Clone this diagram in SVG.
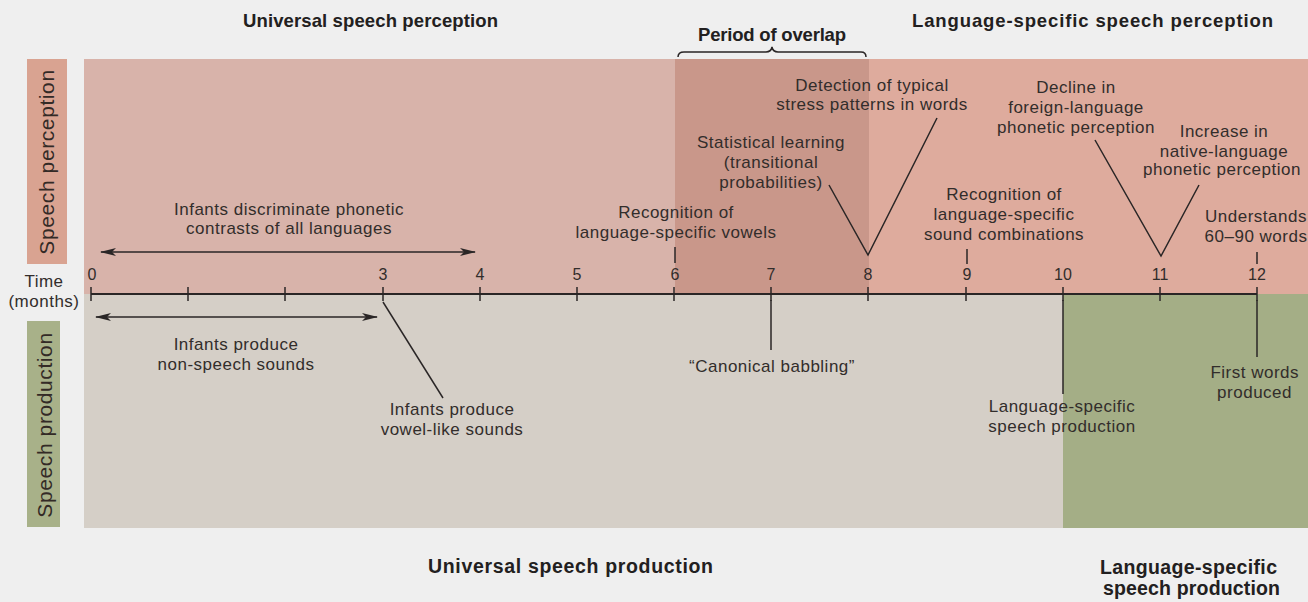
<svg xmlns="http://www.w3.org/2000/svg" width="1308" height="602" viewBox="0 0 1308 602">
<defs>
<style>
.t{font-family:"Liberation Sans",Arial,sans-serif;font-size:17px;letter-spacing:0.5px;fill:#322d2b;text-anchor:middle}
.n{font-family:"Liberation Sans",Arial,sans-serif;font-size:16px;fill:#322d2b;text-anchor:middle}
.h{font-family:"Liberation Sans",Arial,sans-serif;font-size:18.5px;font-weight:bold;fill:#222020}
.b{font-family:"Liberation Sans",Arial,sans-serif;font-size:19.5px;font-weight:bold;fill:#222020}
.side{font-family:"Liberation Sans",Arial,sans-serif;font-size:21px;letter-spacing:0.6px;fill:#332a26;text-anchor:middle}
.ln{stroke:#2a2626;stroke-width:1.5;fill:none}
.ax{stroke:#2a2626;stroke-width:1.8;fill:none}
</style>
<marker id="ah" viewBox="0 0 16 8" refX="15" refY="4" markerWidth="16" markerHeight="8" markerUnits="userSpaceOnUse" orient="auto-start-reverse">
<path d="M0,0 L16,4 L0,8 L4,4 Z" fill="#2a2626"/>
</marker>
</defs>
<rect width="1308" height="602" fill="#efefef"/>
<g id="panels">
<rect x="84" y="59" width="591" height="235" fill="#d8b3aa"/>
<rect x="675" y="59" width="194" height="235" fill="#c9978a"/>
<rect x="869" y="59" width="439" height="235" fill="#deab9d"/>
<rect x="84" y="294" width="979" height="234" fill="#d5cfc7"/>
<rect x="1063" y="294" width="245" height="234" fill="#a4ae86"/>
</g>
<g id="side-labels">
<rect x="27" y="59" width="40" height="205" fill="#d9a391"/>
<text class="side" transform="translate(54,162) rotate(-90)">Speech perception</text>
<rect x="27" y="321" width="33" height="206" fill="#a8b189"/>
<text class="side" transform="translate(52,425) rotate(-90)">Speech production</text>
<text class="t" x="44" y="287">Time</text>
<text class="t" x="44" y="307">(months)</text>
</g>
<g id="titles">
<text class="h" x="243" y="27" textLength="255">Universal speech perception</text>
<text class="h" x="912" y="27" textLength="361">Language-specific speech perception</text>
<text class="h" x="698" y="41" textLength="148">Period of overlap</text>
<text class="b" x="428" y="573" textLength="285">Universal speech production</text>
<text class="b" x="1100" y="574" textLength="177">Language-specific</text>
<text class="b" x="1103" y="595" textLength="177">speech production</text>
</g>
<g id="axis">
<line class="ax" x1="91" y1="294" x2="1257" y2="294"/>
<g class="ln">
<line x1="91" y1="287" x2="91" y2="301"/>
<line x1="188" y1="287" x2="188" y2="301"/>
<line x1="285" y1="287" x2="285" y2="301"/>
<line x1="383" y1="287" x2="383" y2="301"/>
<line x1="480" y1="287" x2="480" y2="301"/>
<line x1="577" y1="287" x2="577" y2="301"/>
<line x1="674" y1="287" x2="674" y2="301"/>
<line x1="771" y1="287" x2="771" y2="301"/>
<line x1="868" y1="287" x2="868" y2="301"/>
<line x1="966" y1="287" x2="966" y2="301"/>
<line x1="1063" y1="287" x2="1063" y2="301"/>
<line x1="1160" y1="287" x2="1160" y2="301"/>
<line x1="1257" y1="287" x2="1257" y2="301"/>
</g>
<g class="n">
<text x="92" y="280">0</text>
<text x="383" y="280">3</text>
<text x="480" y="280">4</text>
<text x="577" y="280">5</text>
<text x="675" y="280">6</text>
<text x="771" y="280">7</text>
<text x="868" y="280">8</text>
<text x="967" y="280">9</text>
<text x="1063" y="280">10</text>
<text x="1160" y="280">11</text>
<text x="1257" y="280">12</text>
</g>
</g>
<g id="connectors">
<path class="ln" d="M678,57 Q678,52 684,52 L766,52 Q771,52 772,47 Q773,52 778,52 L861,52 Q866,52 866,57"/>
<line class="ln" x1="101" y1="252" x2="475" y2="252" marker-start="url(#ah)" marker-end="url(#ah)"/>
<line class="ln" x1="96" y1="317" x2="377" y2="317" marker-start="url(#ah)" marker-end="url(#ah)"/>
<line class="ln" x1="383" y1="302" x2="443" y2="398"/>
<line class="ln" x1="675" y1="247" x2="675" y2="263"/>
<polyline class="ln" points="829,185 868,255 937,118"/>
<line class="ln" x1="967" y1="249" x2="967" y2="264"/>
<polyline class="ln" points="1095,140 1161,256 1199,185"/>
<line class="ln" x1="1257" y1="252" x2="1257" y2="264"/>
<line class="ln" x1="771" y1="300" x2="771" y2="350"/>
<line class="ln" x1="1063" y1="300" x2="1063" y2="394"/>
<line class="ln" x1="1257" y1="300" x2="1257" y2="357"/>
</g>
<g id="n-discriminate"><text class="t" x="289" y="215">Infants discriminate phonetic</text><text class="t" x="289" y="234">contrasts of all languages</text></g>
<g id="n-nonspeech"><text class="t" x="236" y="350">Infants produce</text><text class="t" x="236" y="370">non-speech sounds</text></g>
<g id="n-vowel"><text class="t" x="452" y="415">Infants produce</text><text class="t" x="452" y="435">vowel-like sounds</text></g>
<g id="n-vowels"><text class="t" x="676" y="218">Recognition of</text><text class="t" x="676" y="238">language-specific vowels</text></g>
<g id="n-statistical"><text class="t" x="771" y="148">Statistical learning</text><text class="t" x="771" y="168">(transitional</text><text class="t" x="771" y="188">probabilities)</text></g>
<g id="n-stress"><text class="t" x="872" y="91">Detection of typical</text><text class="t" x="872" y="110">stress patterns in words</text></g>
<g id="n-combinations"><text class="t" x="1004" y="200">Recognition of</text><text class="t" x="1004" y="220">language-specific</text><text class="t" x="1004" y="240">sound combinations</text></g>
<g id="n-decline"><text class="t" x="1076" y="93">Decline in</text><text class="t" x="1076" y="113">foreign-language</text><text class="t" x="1076" y="133">phonetic perception</text></g>
<g id="n-increase"><text class="t" x="1224" y="137">Increase in</text><text class="t" x="1224" y="157">native-language</text><text class="t" x="1222" y="175">phonetic perception</text></g>
<g id="n-understands"><text class="t" x="1256" y="222">Understands</text><text class="t" x="1256" y="242">60–90 words</text></g>
<g id="n-canonical"><text class="t" x="772" y="372">“Canonical babbling”</text></g>
<g id="n-langprod"><text class="t" x="1062" y="412">Language-specific</text><text class="t" x="1062" y="432">speech production</text></g>
<g id="n-firstwords"><text class="t" x="1299" y="378" style="text-anchor:end">First words</text><text class="t" x="1292" y="398" style="text-anchor:end">produced</text></g>
</svg>
